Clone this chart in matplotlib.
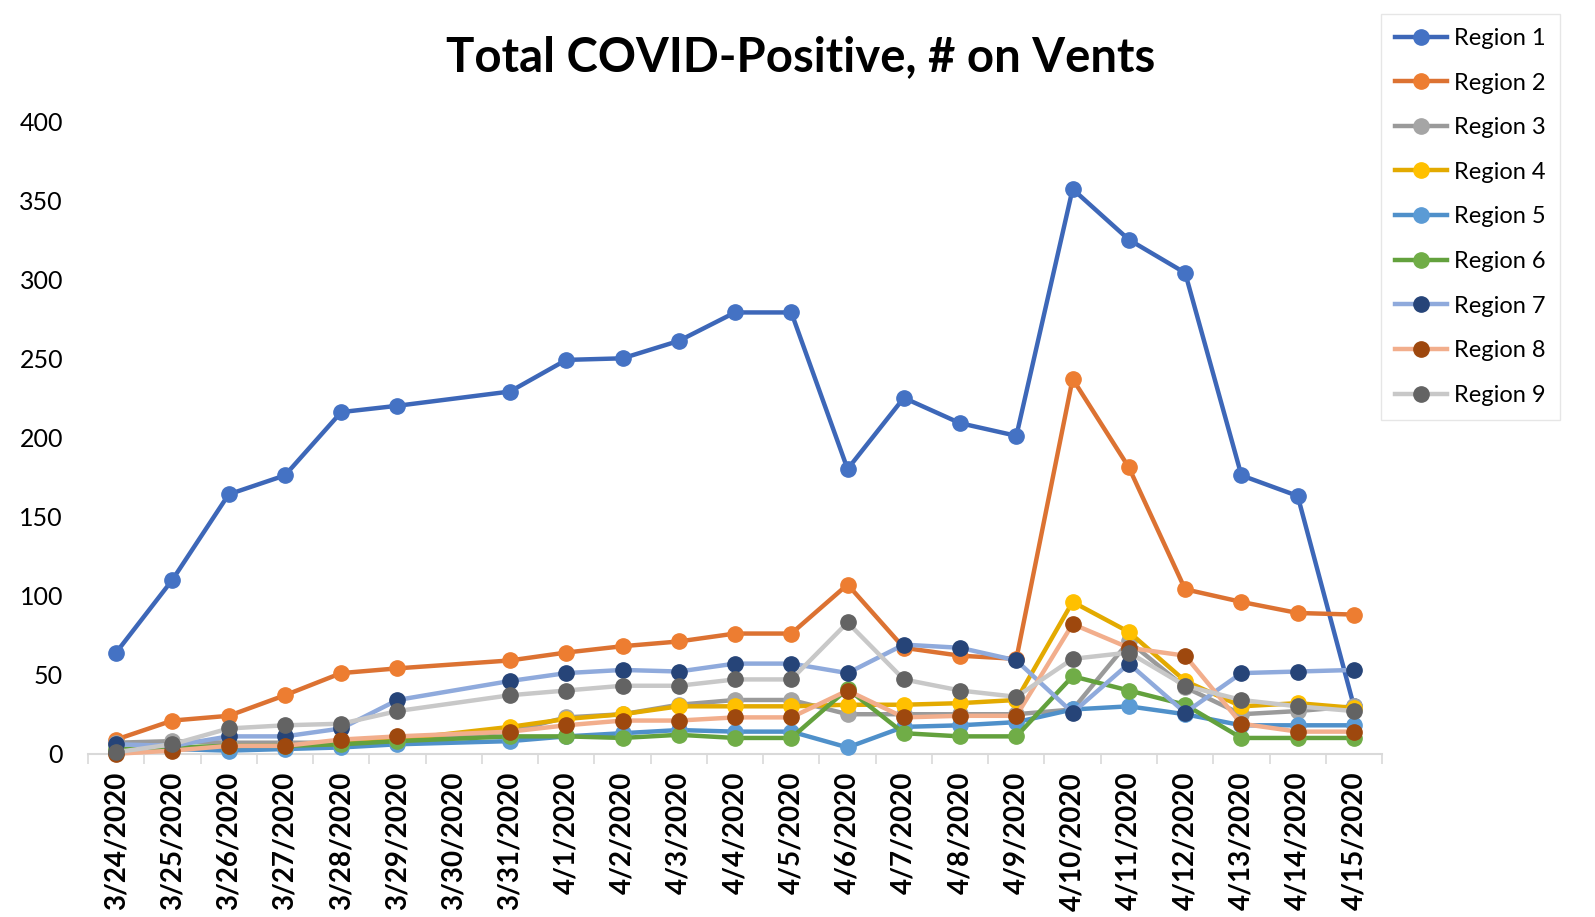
import numpy as np
from matplotlib import pyplot as plt

plt.rcParams["font.family"] = ["Lato", "DejaVu Sans"]

nan = np.nan

dates = ["3/24/2020", "3/25/2020", "3/26/2020", "3/27/2020", "3/28/2020",
         "3/29/2020", "3/30/2020", "3/31/2020", "4/1/2020", "4/2/2020",
         "4/3/2020", "4/4/2020", "4/5/2020", "4/6/2020", "4/7/2020",
         "4/8/2020", "4/9/2020", "4/10/2020", "4/11/2020", "4/12/2020",
         "4/13/2020", "4/14/2020", "4/15/2020"]

region1 = [64, 110, 164, 176, 216, 220, nan, 229, 249, 250, 261, 279, 279, 180, 225, 209, 201, 357, 325, 304, 176, 163, 30]
region2 = [9, 21, 24, 37, 51, 54, nan, 59, 64, 68, 71, 76, 76, 107, 67, 62, 60, 237, 181, 104, 96, 89, 88]
region3 = [7, 8, 7, 7, 7, 9, nan, 14, 23, 25, 31, 34, 34, 25, 25, 25, 25, 28, 71, 42, 25, 27, 30]
region4 = [1, 4, 4, 4, 6, 9, nan, 17, 22, 25, 30, 30, 30, 31, 31, 32, 34, 96, 77, 46, 30, 32, 29]
region5 = [2, 3, 2, 3, 4, 6, nan, 8, 11, 13, 15, 14, 14, 4, 17, 18, 20, 28, 30, 25, 18, 18, 18]
region6 = [3, 4, 5, 5, 6, 8, nan, 11, 11, 10, 12, 10, 10, 41, 13, 11, 11, 49, 40, 31, 10, 10, 10]
region7 = [6, 5, 11, 11, 16, 34, nan, 46, 51, 53, 52, 57, 57, 51, 69, 67, 59, 26, 57, 26, 51, 52, 53]
region8 = [0, 2, 5, 5, 9, 11, nan, 14, 18, 21, 21, 23, 23, 40, 23, 24, 24, 82, 67, 62, 19, 14, 14]
region9 = [1, 6, 16, 18, 19, 27, nan, 37, 40, 43, 43, 47, 47, 83, 47, 40, 36, 60, 64, 43, 34, 30, 27]

series = [region1, region2, region3, region4, region5, region6, region7, region8, region9]
names = ["Region %d" % i for i in range(1, 10)]
# couleur de la ligne / couleur du point
line_colors = ["#3D67B8", "#DC7232", "#9A9A9A", "#E3AA00", "#4F90CA",
               "#63A13D", "#8FAADC", "#F2AE8C", "#C8C8C8"]
marker_colors = ["#4472C4", "#ED7D31", "#A5A5A5", "#FFC000", "#5B9BD5",
                 "#70AD47", "#264478", "#9E480E", "#636363"]

fig = plt.figure(figsize=(15.95, 9.17), dpi=100)
ax = fig.add_axes([0.0552, 0.178, 0.8113, 0.69])

x = np.arange(len(dates))
for i, vals in enumerate(series):
    y = np.array(vals, dtype=float)
    ok = ~np.isnan(y)
    ax.plot(x[ok], y[ok], color=line_colors[i], lw=3.2, marker="o", ms=11,
            mfc=marker_colors[i], mec=marker_colors[i], label=names[i],
            clip_on=False, zorder=3 + i)

ax.set_xlim(-0.5, len(dates) - 0.5)
ax.set_ylim(0, 400)
ax.set_yticks(range(0, 401, 50))
ax.tick_params(axis="y", length=0, pad=18, labelsize=18)
ax.set_xticks(x)
ax.set_xticklabels(dates, rotation=90, fontweight="bold", fontsize=20)
ax.tick_params(axis="x", length=0, pad=13)
ax.set_xticks(np.arange(-0.5, len(dates), 1), minor=True)
ax.tick_params(axis="x", which="minor", length=7, color="#D9D9D9", width=1.2)

for s in ["top", "right", "left"]:
    ax.spines[s].set_visible(False)
ax.spines["bottom"].set_color("#D9D9D9")
ax.spines["bottom"].set_linewidth(1.5)

fig.text(0.502, 0.938, "Total COVID-Positive, # on Vents", ha="center", va="center",
         fontsize=34, fontweight="bold")

leg = fig.legend(loc="upper left", bbox_to_anchor=(0.866, 0.985), fontsize=17,
                 handlelength=2.2, labelspacing=1.0, borderpad=0.6, borderaxespad=0,
                 fancybox=False, edgecolor="#E0E0E0", handletextpad=0.3)
leg.get_frame().set_linewidth(1)

fig.savefig("out.png", dpi=100)
